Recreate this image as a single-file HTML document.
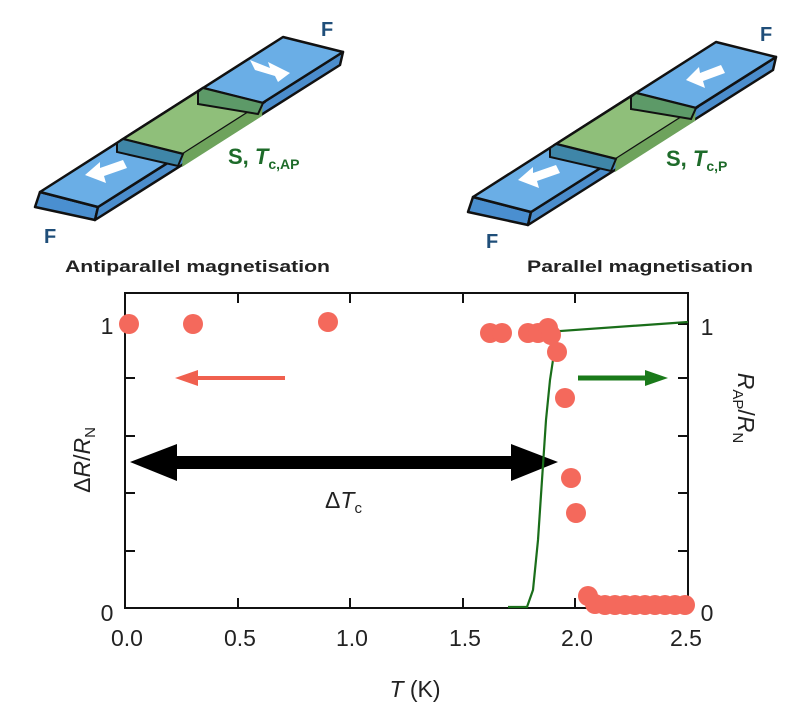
<!DOCTYPE html>
<html><head><meta charset="utf-8"><style>
body{margin:0;background:#fff;}
svg text{font-family:"Liberation Sans",sans-serif;}
</style></head><body>
<svg width="812" height="720" viewBox="0 0 812 720" xmlns="http://www.w3.org/2000/svg">
<defs>
<g id="bar">
  <polygon points="40,192 98,207 95,220 35,207" fill="#4a8fd0" stroke="#111" stroke-width="2.5" stroke-linejoin="round"/>
  <polygon points="98,207 343,52 340,65 95,220" fill="#4b8dcc" stroke="#111" stroke-width="2.5" stroke-linejoin="round"/>
  <polygon points="40,192 283,37 343,52 98,207" fill="#6aaee6" stroke="#111" stroke-width="2.5" stroke-linejoin="round"/>
  <polygon points="123,139 203,88 263,103 183,154" fill="#8fbf7a" stroke="#111" stroke-width="2.5"/>
  <polygon points="183,154 263,103 262,116 182,167" fill="#6ea35c"/>
  <polygon points="117,143 123,139 183,154 178,166 117,152" fill="#3f86a8" stroke="#111" stroke-width="2"/>
  <polygon points="198,92 203,88 263,103 258,114 198,104" fill="#5d9a68" stroke="#111" stroke-width="2"/>
</g>
</defs>

<use href="#bar"/>
<polygon points="250,60 270,68 268,62 290,73 278,82 275,76 255,70" fill="#fff"/>
<polygon points="85,175 100,162 100,168 123,160 127,168 104,176 106,183" fill="#fff"/>
<text x="321" y="36" font-size="20" font-weight="bold" fill="#1f4e79">F</text>
<text x="44" y="243" font-size="20" font-weight="bold" fill="#1f4e79">F</text>
<text x="228" y="164" font-size="22" fill="#1e6b2a" font-weight="bold">S, <tspan font-style="italic">T</tspan><tspan font-size="14" dy="5">c,AP</tspan></text>
<text x="65" y="272" font-size="17" font-weight="bold" fill="#222" textLength="265" lengthAdjust="spacingAndGlyphs">Antiparallel magnetisation</text>

<g transform="translate(433,5)">
<use href="#bar"/>
<polygon points="253,75 266,62 267,68 288,60 292,68 270,76 272,83" fill="#fff"/>
<polygon points="85,175 100,162 100,168 123,160 127,168 104,176 106,183" fill="#fff"/>
</g>
<text x="760" y="41" font-size="20" font-weight="bold" fill="#1f4e79">F</text>
<text x="486" y="248" font-size="20" font-weight="bold" fill="#1f4e79">F</text>
<text x="666" y="166" font-size="22" fill="#1e6b2a" font-weight="bold">S, <tspan font-style="italic">T</tspan><tspan font-size="14" dy="5">c,P</tspan></text>
<text x="527" y="272" font-size="17" font-weight="bold" fill="#222" textLength="226" lengthAdjust="spacingAndGlyphs">Parallel magnetisation</text>

<rect x="125" y="293" width="563" height="315" fill="none" stroke="#111" stroke-width="2"/>
<g stroke="#111" stroke-width="2">
  <line x1="238" y1="293" x2="238" y2="303"/><line x1="350" y1="293" x2="350" y2="303"/><line x1="463" y1="293" x2="463" y2="303"/><line x1="575" y1="293" x2="575" y2="303"/>
  <line x1="238" y1="608" x2="238" y2="598"/><line x1="350" y1="608" x2="350" y2="598"/><line x1="463" y1="608" x2="463" y2="598"/><line x1="575" y1="608" x2="575" y2="598"/>
  <line x1="125" y1="324" x2="135" y2="324"/><line x1="125" y1="378" x2="135" y2="378"/><line x1="125" y1="436" x2="135" y2="436"/><line x1="125" y1="493" x2="135" y2="493"/><line x1="125" y1="551" x2="135" y2="551"/>
  <line x1="688" y1="324" x2="678" y2="324"/><line x1="688" y1="378" x2="678" y2="378"/><line x1="688" y1="436" x2="678" y2="436"/><line x1="688" y1="493" x2="678" y2="493"/><line x1="688" y1="551" x2="678" y2="551"/>
</g>
<g font-size="23" fill="#222" text-anchor="middle">
  <text x="127" y="646">0.0</text><text x="240" y="646">0.5</text><text x="352" y="646">1.0</text><text x="465" y="646">1.5</text><text x="577" y="646">2.0</text><text x="686" y="646">2.5</text>
  <text x="107" y="334">1</text><text x="107" y="621">0</text>
  <text x="707" y="335">1</text><text x="707" y="621">0</text>
</g>
<text x="415" y="697" font-size="23" fill="#222" text-anchor="middle"><tspan font-style="italic">T</tspan> (K)</text>
<text transform="translate(90,460) rotate(-90)" font-size="23" fill="#222" text-anchor="middle">Δ<tspan font-style="italic">R</tspan>/<tspan font-style="italic">R</tspan><tspan font-size="15" dy="5">N</tspan></text>
<text transform="translate(738,408) rotate(90)" font-size="23" fill="#222" text-anchor="middle"><tspan font-style="italic">R</tspan><tspan font-size="15" dy="5">AP</tspan><tspan dy="-5">/</tspan><tspan font-style="italic">R</tspan><tspan font-size="15" dy="5">N</tspan></text>

<line x1="285" y1="378" x2="195" y2="378" stroke="#f0604f" stroke-width="4"/>
<polygon points="175,378 198,370 198,386" fill="#f0604f"/>
<line x1="578" y1="378" x2="648" y2="378" stroke="#1a7a1a" stroke-width="5"/>
<polygon points="668,378 645,370 645,386" fill="#1a7a1a"/>

<rect x="170" y="456" width="350" height="13" fill="#000"/>
<polygon points="130,462 177,444 177,481" fill="#000"/>
<polygon points="558,462 511,444 511,481" fill="#000"/>
<text x="325" y="508" font-size="23" fill="#222">Δ<tspan font-style="italic">T</tspan><tspan font-size="15" dy="5">c</tspan></text>

<polyline points="508,607 527,607 533,590 538,540 542,480 546,420 550,380 553,360 555,345 560,331 688,322" fill="none" stroke="#1a6e1a" stroke-width="2.2"/>

<g fill="#f4695c">
  <circle cx="129" cy="324" r="10"/><circle cx="193" cy="324" r="10"/><circle cx="328" cy="322" r="10"/>
  <circle cx="490" cy="333" r="10"/><circle cx="502" cy="333" r="10"/><circle cx="528" cy="333" r="10"/><circle cx="538" cy="333" r="10"/><circle cx="548" cy="328" r="10"/><circle cx="551" cy="335" r="10"/>
  <circle cx="557" cy="352" r="10"/><circle cx="565" cy="398" r="10"/><circle cx="571" cy="478" r="10"/><circle cx="576" cy="513" r="10"/>
  <circle cx="588" cy="596" r="10"/>
  <circle cx="595" cy="604" r="10"/><circle cx="605" cy="605" r="10"/><circle cx="615" cy="605" r="10"/><circle cx="625" cy="605" r="10"/><circle cx="635" cy="605" r="10"/><circle cx="645" cy="605" r="10"/><circle cx="655" cy="605" r="10"/><circle cx="665" cy="605" r="10"/><circle cx="675" cy="605" r="10"/><circle cx="685" cy="605" r="10"/>
</g>
</svg>
</body></html>
